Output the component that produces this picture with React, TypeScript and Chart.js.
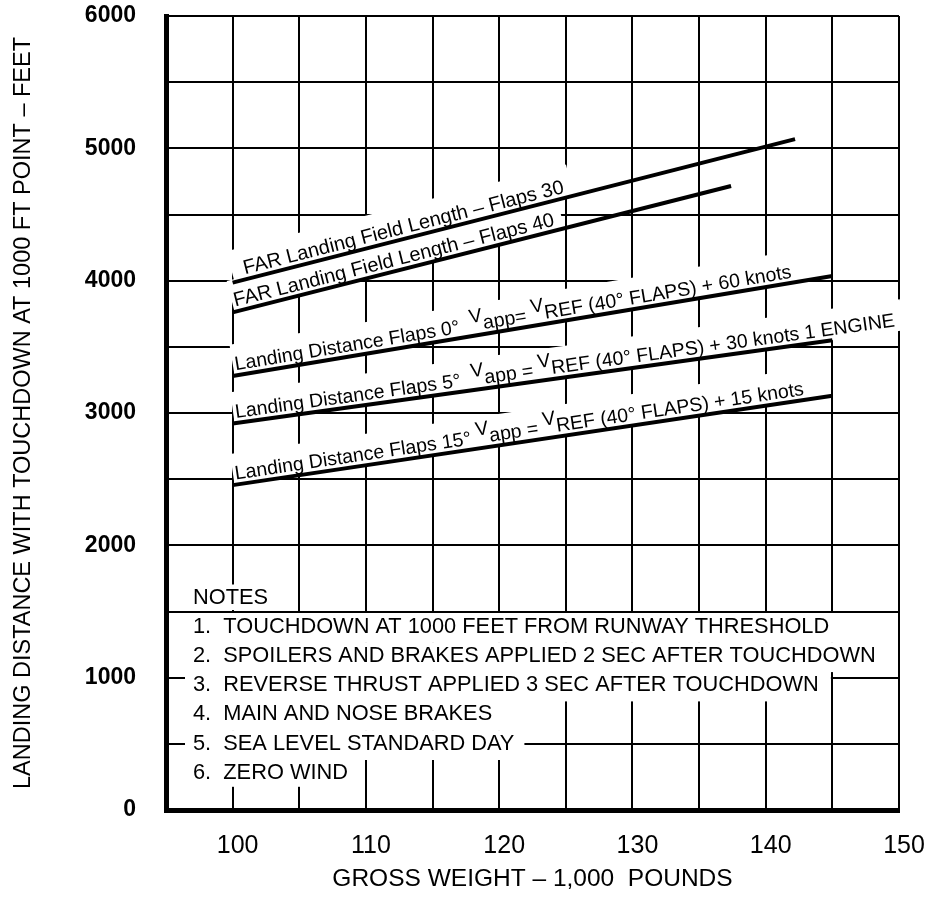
import React, { useEffect, useRef } from 'react';
import { Chart, registerables } from 'chart.js';

Chart.register(...registerables);

const FONT = '"Liberation Sans", Arial, Helvetica, sans-serif';

// ---- data (gross weight in 1,000 lb, landing distance in ft) ----
const far30Weight = [100, 142.2];
const far30Distance = [3985, 5070];
const far40Weight = [100, 137.4];
const far40Distance = [3760, 4715];
const flaps0Weight = [100, 145];
const flaps0Distance = [3280, 4035];
const flaps5Weight = [100, 145];
const flaps5Distance = [2920, 3550];
const flaps15Weight = [100, 145];
const flaps15Distance = [2455, 3130];

// tick labels
const xLabeledTicks = [100, 110, 120, 130, 140, 150];
const yLabeledTicks = [0, 1000, 2000, 3000, 4000, 5000, 6000];

// curve labels: [text, raised]
const far30Label: [string, boolean][] = [['FAR Landing Field Length – Flaps 30', false]];
const far40Label: [string, boolean][] = [['FAR Landing Field Length – Flaps 40', false]];
const flaps0Label: [string, boolean][] = [
  ['Landing Distance Flaps 0°  ', false], ['V', true], ['app', false], ['= ', false], ['V', true],
  ['REF (40° FLAPS) + 60 knots', false],
];
const flaps5Label: [string, boolean][] = [
  ['Landing Distance Flaps 5°  ', false], ['V', true], ['app', false], [' = ', false], ['V', true],
  ['REF (40° FLAPS) + 30 knots 1 ENGINE', false],
];
const flaps15Label: [string, boolean][] = [
  ['Landing Distance Flaps 15° ', false], ['V', true], ['app', false], [' = ', false], ['V', true],
  ['REF (40° FLAPS) + 15 knots', false],
];

const notesTitle = 'NOTES';
const notesLines = [
  '1.  TOUCHDOWN AT 1000 FEET FROM RUNWAY THRESHOLD',
  '2.  SPOILERS AND BRAKES APPLIED 2 SEC AFTER TOUCHDOWN',
  '3.  REVERSE THRUST APPLIED 3 SEC AFTER TOUCHDOWN',
  '4.  MAIN AND NOSE BRAKES',
  '5.  SEA LEVEL STANDARD DAY',
  '6.  ZERO WIND',
];

const xTitle = 'GROSS WEIGHT – 1,000  POUNDS';
const yTitle = 'LANDING DISTANCE WITH TOUCHDOWN AT 1000 FT POINT – FEET';

const series = [
  { w: far30Weight, d: far30Distance, label: far30Label, start: 14, size: 20 },
  { w: far40Weight, d: far40Distance, label: far40Label, start: 4, size: 20 },
  { w: flaps0Weight, d: flaps0Distance, label: flaps0Label, start: 4, size: 19.5 },
  { w: flaps5Weight, d: flaps5Distance, label: flaps5Label, start: 4, size: 19.5 },
  { w: flaps15Weight, d: flaps15Distance, label: flaps15Label, start: 4, size: 19.5 },
];

const NOTE_SIZE = 21.8;

const annotationPlugin = {
  id: 'annotations',
  beforeDatasetsDraw(chart: any) {
    const { ctx, chartArea, scales } = chart;
    const xs = scales.x;
    const ys = scales.y;
    ctx.save();
    const geoms = chart.data.datasets.map((ds: any) => {
      const d = ds.data;
      ctx.font = `${ds.labelSize}px ${FONT}`;
      const p0 = { x: xs.getPixelForValue(d[0].x), y: ys.getPixelForValue(d[0].y) };
      const p1 = { x: xs.getPixelForValue(d[d.length - 1].x), y: ys.getPixelForValue(d[d.length - 1].y) };
      const ang = Math.atan2(p1.y - p0.y, p1.x - p0.x);
      const parts: [string, boolean][] = ds.labelParts;
      const total = parts.reduce((s, p) => s + ctx.measureText(p[0]).width, 0);
      return { p0, ang, parts, total, start: ds.labelStart, size: ds.labelSize };
    });
    // white backgrounds
    geoms.forEach((g: any) => {
      ctx.save();
      ctx.translate(g.p0.x, g.p0.y);
      ctx.rotate(g.ang);
      ctx.fillStyle = '#fff';
      const h = g.size * 1.5 + 2;
      ctx.fillRect(2, -h, g.start + g.total + 6, h);
      ctx.restore();
    });
    // texts
    geoms.forEach((g: any) => {
      ctx.save();
      ctx.translate(g.p0.x, g.p0.y);
      ctx.rotate(g.ang);
      ctx.font = `${g.size}px ${FONT}`;
      ctx.fillStyle = '#000';
      ctx.textBaseline = 'alphabetic';
      let cx = g.start;
      for (const [t, raised] of g.parts) {
        ctx.fillText(t, cx, raised ? -13 : -5);
        cx += ctx.measureText(t).width;
      }
      ctx.restore();
    });

    // notes block
    ctx.font = `${NOTE_SIZE}px ${FONT}`;
    ctx.textBaseline = 'middle';
    const nx = chartArea.left + 27;
    const y1500 = ys.getPixelForValue(1500);
    const rowH = 29.3;
    const titleW = ctx.measureText(notesTitle).width;
    ctx.fillStyle = '#fff';
    ctx.fillRect(nx - 8, y1500 - 27, titleW + 16, 25.5);
    notesLines.forEach((line, i) => {
      const top = y1500 + 1.5 + i * rowH;
      const w = ctx.measureText(line).width;
      let right = nx + w + 10;
      if (i <= 1) right = chartArea.right - 1.5;
      else if (i === 2) right = xs.getPixelForValue(145) - 1.5;
      else if (i === 3) right = xs.getPixelForValue(125) - 1.5;
      ctx.fillRect(nx - 8, top, right - (nx - 8), i === notesLines.length - 1 ? rowH - 2 : rowH + 0.5);
    });
    ctx.fillStyle = '#000';
    ctx.fillText(notesTitle, nx, y1500 - 14);
    notesLines.forEach((line, i) => {
      ctx.fillText(line, nx, y1500 + 15 + i * rowH);
    });
    ctx.restore();
  },
};

export default function App() {
  const ref = useRef<HTMLCanvasElement | null>(null);
  useEffect(() => {
    if (!ref.current) return;
    const chart = new Chart(ref.current, {
      type: 'scatter',
      data: {
        datasets: series.map((s, i) => ({
          label: 'series' + i,
          data: s.w.map((w, j) => ({ x: w, y: s.d[j] })),
          showLine: true,
          borderColor: '#000',
          borderWidth: 4,
          pointRadius: 0,
          borderCapStyle: 'butt',
          labelParts: s.label,
          labelStart: s.start,
          labelSize: s.size,
        })) as any,
      },
      options: {
        animation: false,
        responsive: true,
        maintainAspectRatio: false,
        layout: { padding: { top: 16, right: 34, left: 0, bottom: 0 } },
        plugins: { legend: { display: false }, tooltip: { enabled: false } },
        scales: {
          x: {
            type: 'linear',
            min: 95,
            max: 150,
            afterFit: (s: any) => {
              s.height = 99;
              s.paddingLeft = 0; s.paddingRight = 0; s.paddingTop = 0; s.paddingBottom = 0;
            },
            ticks: {
              stepSize: 5,
              autoSkip: false,
              maxRotation: 0,
              padding: 21,
              labelOffset: 5,
              color: '#000',
              font: { family: FONT, size: 25 },
              callback: (v: any) => (xLabeledTicks.includes(Number(v)) ? String(v) : ''),
            },
            grid: { color: '#000', lineWidth: 2, drawTicks: false },
            border: { display: true, color: '#000', width: 5 },
            title: {
              display: true,
              text: xTitle,
              color: '#000',
              font: { family: FONT, size: 24.5 },
              padding: { top: 0, bottom: 15 },
            },
          },
          y: {
            type: 'linear',
            min: 0,
            max: 6000,
            afterFit: (s: any) => {
              s.width = 166;
              s.paddingLeft = 0; s.paddingRight = 0; s.paddingTop = 0; s.paddingBottom = 0;
            },
            ticks: {
              stepSize: 500,
              autoSkip: false,
              padding: 30,
              color: '#000',
              font: { family: FONT, size: 23, weight: 'bold' },
              callback: (v: any) => (yLabeledTicks.includes(Number(v)) ? String(v) : ''),
            },
            grid: { color: '#000', lineWidth: 2, drawTicks: false },
            border: { display: true, color: '#000', width: 5 },
            title: {
              display: true,
              text: yTitle,
              color: '#000',
              font: { family: FONT, size: 23.5 },
              padding: { top: 9, bottom: 0 },
            },
          },
        },
      },
      plugins: [annotationPlugin],
    });
    return () => chart.destroy();
  }, []);
  return (
    <div style={{ position: 'absolute', left: 0, top: 0, width: '933px', height: '909px', background: '#fff' }}>
      <canvas ref={ref} />
    </div>
  );
}
